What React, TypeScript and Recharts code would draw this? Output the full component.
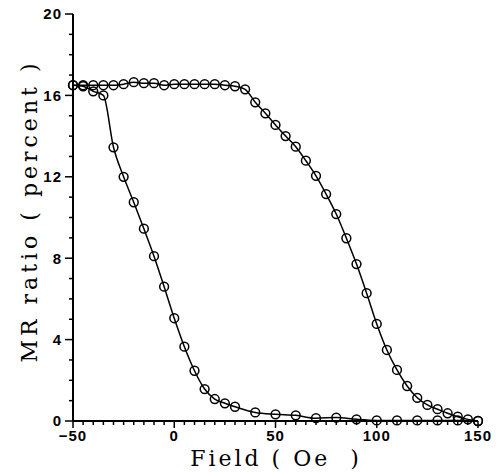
import { LineChart, Line, XAxis, YAxis } from 'recharts';

// branch swept from negative saturation (stays high until ~35 Oe)
const FIELD_UP = [
  -50, -45, -40, -35, -30, -25, -20, -15, -10, -5, 0, 5, 10, 15, 20, 25, 30, 35, 40, 45,
  50, 55, 60, 65, 70, 75, 80, 85, 90, 95, 100, 105, 110, 115, 120, 125, 130, 135, 140, 145, 150,
];
const MR_UP = [
  16.5, 16.5, 16.5, 16.5, 16.5, 16.55, 16.65, 16.6, 16.6, 16.5, 16.55, 16.55, 16.55, 16.55,
  16.55, 16.5, 16.45, 16.3, 15.66, 15.12, 14.55, 14.0, 13.48, 12.79, 12.05, 11.15, 10.17,
  8.98, 7.71, 6.28, 4.77, 3.49, 2.51, 1.72, 1.14, 0.79, 0.58, 0.38, 0.21, 0.08, 0.0,
];

// branch that drops at -35 Oe
const FIELD_DOWN = [
  -50, -45, -40, -35, -30, -25, -20, -15, -10, -5, 0, 5, 10, 15, 20, 25, 30, 40, 50, 60, 70,
  80, 90, 100, 110, 120, 130, 140, 150,
];
const MR_DOWN = [
  16.5, 16.45, 16.2, 16.0, 13.45, 12.0, 10.75, 9.45, 8.1, 6.6, 5.05, 3.65, 2.47, 1.57, 1.08,
  0.87, 0.7, 0.42, 0.33, 0.28, 0.14, 0.17, 0.08, 0.03, 0.03, 0.03, 0.03, 0.03, 0.0,
];

const X_MAJOR = [-50, 0, 50, 100, 150];
const Y_MAJOR = [0, 4, 8, 12, 16, 20];

const xTicks: number[] = [];
for (let v = -50; v <= 150; v += 5) xTicks.push(v);
const yTicks: number[] = [];
for (let v = 0; v <= 20; v += 1) yTicks.push(v);

const upData = FIELD_UP.map((x, i) => ({ x, mr: MR_UP[i] }));
const downData = FIELD_DOWN.map((x, i) => ({ x, mr: MR_DOWN[i] }));

const fmt = (v: number) => (v < 0 ? `\u2212${Math.abs(v)}` : `${v}`);

const tickFont = {
  fontFamily: '"Liberation Sans", Arial, sans-serif',
  fontWeight: 700,
  fontSize: 15,
  letterSpacing: 1,
};

const XTick = ({ x, y, payload }: any) => {
  const major = X_MAJOR.includes(payload.value);
  return (
    <g>
      <line x1={x} x2={x} y1={y} y2={y + (major ? 7 : 4)} stroke="#000" strokeWidth={1.5} />
      {major && (
        <text x={x} y={y + 20} textAnchor="middle" fill="#000" style={tickFont}>
          {fmt(payload.value)}
        </text>
      )}
    </g>
  );
};

const YTick = ({ x, y, payload }: any) => {
  const major = Y_MAJOR.includes(payload.value);
  return (
    <g>
      <line x1={x - (major ? 8 : 4)} x2={x} y1={y} y2={y} stroke="#000" strokeWidth={1.5} />
      {major && (
        <text x={x - 11} y={y} dy="0.36em" textAnchor="end" fill="#000" style={tickFont}>
          {fmt(payload.value)}
        </text>
      )}
    </g>
  );
};

const dotStyle = { r: 4.4, stroke: '#000', strokeWidth: 1.5, fill: 'none' };

export default function App() {
  return (
    <div style={{ position: 'absolute', left: 0, top: 0, background: '#fff' }}>
      <LineChart width={500} height={474} margin={{ top: 14, right: 22, bottom: 0, left: 0 }}>
        <XAxis
          type="number"
          dataKey="x"
          domain={[-50, 150]}
          ticks={xTicks}
          interval={0}
          height={53}
          tickSize={0}
          tickMargin={0}
          tickLine={false}
          tick={<XTick />}
          axisLine={{ stroke: '#000', strokeWidth: 2 }}
        />
        <XAxis
          xAxisId="top"
          orientation="top"
          type="number"
          domain={[-50, 150]}
          height={0}
          tick={false}
          tickLine={false}
          axisLine={{ stroke: '#000', strokeWidth: 1.5 }}
        />
        <YAxis
          type="number"
          domain={[0, 20]}
          ticks={yTicks}
          interval={0}
          width={73}
          tickSize={0}
          tickMargin={0}
          tickLine={false}
          tick={<YTick />}
          axisLine={{ stroke: '#000', strokeWidth: 2 }}
        />
        <YAxis
          yAxisId="right"
          orientation="right"
          type="number"
          domain={[0, 20]}
          width={0}
          tick={false}
          tickLine={false}
          axisLine={{ stroke: '#000', strokeWidth: 2 }}
        />
        <Line
          data={upData}
          dataKey="mr"
          type="monotone"
          stroke="#000"
          strokeWidth={1.5}
          dot={dotStyle}
          isAnimationActive={false}
        />
        <Line
          data={downData}
          dataKey="mr"
          type="monotone"
          stroke="#000"
          strokeWidth={1.5}
          dot={dotStyle}
          isAnimationActive={false}
        />
        <text
          x={276}
          y={466}
          textAnchor="middle"
          fill="#000"
          style={{ fontFamily: '"DejaVu Serif", serif', fontSize: 22, letterSpacing: 3, whiteSpace: 'pre' }}
        >
          {'Field ( Oe  )'}
        </text>
        <text
          transform="translate(37,211) rotate(-90)"
          textAnchor="middle"
          fill="#000"
          style={{ fontFamily: '"DejaVu Serif", serif', fontSize: 22, letterSpacing: 4, whiteSpace: 'pre' }}
        >
          {'MR ratio ( percent )'}
        </text>
      </LineChart>
    </div>
  );
}
